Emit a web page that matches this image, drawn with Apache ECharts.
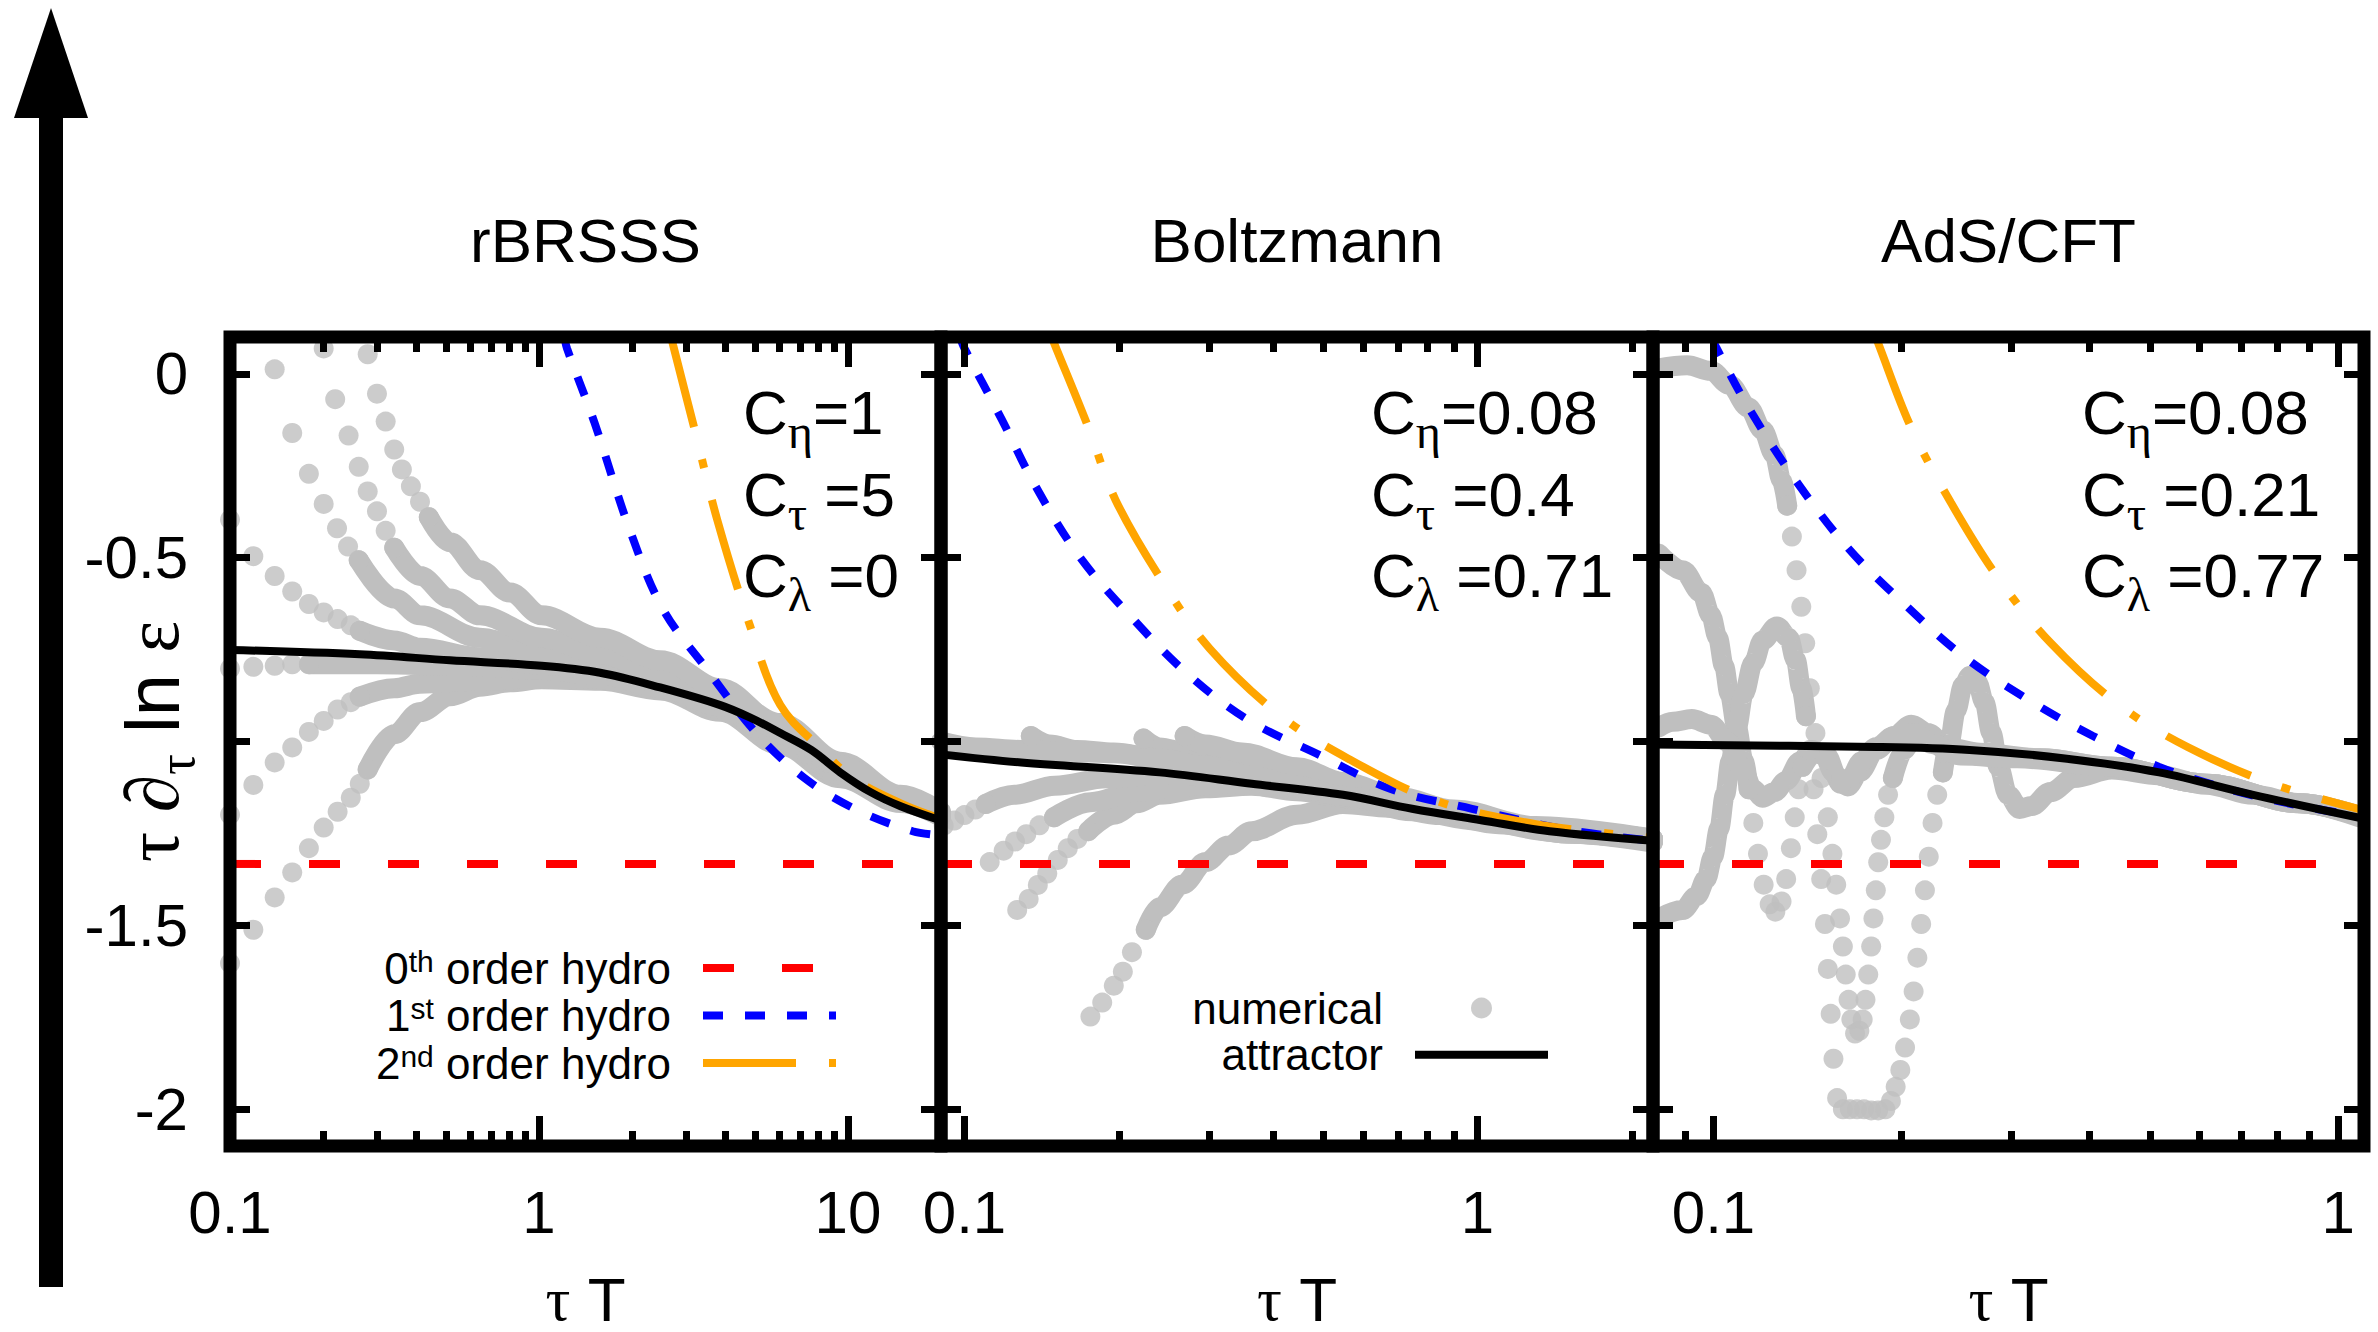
<!DOCTYPE html>
<html><head><meta charset="utf-8">
<script src="https://cdn.jsdelivr.net/npm/echarts@6/dist/echarts.min.js"></script>
<style>html,body{margin:0;padding:0;background:#fff}#c{width:2378px;height:1332px}</style>
</head><body><div id="c"></div>
<script>
// ---------------- data ----------------
const panelTitles = ['rBRSSS', 'Boltzmann', 'AdS/CFT'];
const xMin = [0.1, 0.09, 0.08];
const xMax = [20, 2.2, 1.1];
const xMajorTicks = [[0.1, 1, 10], [0.1, 1], [0.1, 1]];
const xMinorTicks = [
  [0.2, 0.3, 0.4, 0.5, 0.6, 0.7, 0.8, 0.9, 2, 3, 4, 5, 6, 7, 8, 9],
  [0.2, 0.3, 0.4, 0.5, 0.6, 0.7, 0.8, 0.9, 2],
  [0.09, 0.2, 0.3, 0.4, 0.5, 0.6, 0.7, 0.8, 0.9]
];
const yTicks = [0, -0.5, -1, -1.5, -2];
const yTickLabels = [0, -0.5, -1.5, -2];
const paramEta = ['1', '0.08', '0.08'];
const paramTau = ['5', '0.4', '0.21'];
const paramLambda = ['0', '0.71', '0.77'];

const hydro0Value = -1.333;

// panel 1 (rBRSSS)
const p1Hydro1 = [[1.21,0.1],[1.232,0.069],[1.508,-0.13],[1.972,-0.427],[2.523,-0.641],[3.527,-0.808],[5.05,-0.977],[7.22,-1.099],[10.56,-1.184],[16.2,-1.244],[20,-1.255]];
const p1Hydro2 = [[2.68,0.1],[2.72,0.076],[3.226,-0.168],[3.774,-0.397],[4.826,-0.687],[6.04,-0.901],[8.25,-1.023],[10.33,-1.099],[14.8,-1.168],[20,-1.21]];
const p1Attractor = [[0.1,-0.751],[0.263,-0.763],[0.515,-0.779],[1.02,-0.794],[1.577,-0.813],[2.467,-0.853],[3.86,-0.901],[4.83,-0.935],[6.04,-0.977],[7.6,-1.023],[9.44,-1.084],[11.8,-1.137],[14.8,-1.176],[20,-1.215]];
const p1Dots = [
  [[0.1,-1.603],[0.119,-1.512],[0.1395,-1.424],[0.159,-1.356],[0.18,-1.29],[0.201,-1.234],[0.223,-1.191],[0.246,-1.153],[0.263,-1.115],[0.279,-1.076]],
  [[0.1,-1.199],[0.119,-1.118],[0.1395,-1.057],[0.159,-1.016],[0.18,-0.974],[0.201,-0.944],[0.223,-0.913],[0.246,-0.893],[0.263,-0.878]],
  [[0.1,-0.802],[0.119,-0.797],[0.1395,-0.794],[0.159,-0.79],[0.18,-0.79]],
  [[0.1,-0.397],[0.119,-0.496],[0.1395,-0.55],[0.159,-0.592],[0.18,-0.626],[0.201,-0.649],[0.223,-0.667],[0.246,-0.684],[0.263,-0.699]],
  [[0.1395,0.012],[0.159,-0.161],[0.18,-0.272],[0.201,-0.354],[0.222,-0.42],[0.241,-0.47],[0.261,-0.507]],
  [[0.201,0.069],[0.219,-0.069],[0.242,-0.168],[0.261,-0.253],[0.279,-0.32],[0.299,-0.374],[0.319,-0.427],[0.34,-0.473]],
  [[0.279,0.053],[0.299,-0.054],[0.319,-0.13],[0.34,-0.206],[0.36,-0.26],[0.385,-0.306],[0.412,-0.348],[0.44,-0.39]]
];
const p1Bands = [
  [[0.279,-1.076],[0.34,-0.98],[0.412,-0.92],[0.515,-0.877],[0.644,-0.851],[0.806,-0.839],[1.02,-0.831],[1.58,-0.835],[2.47,-0.861],[3.86,-0.919],[6.04,-1.01],[9.44,-1.1],[14.8,-1.167],[20,-1.2]],
  [[0.263,-0.878],[0.34,-0.855],[0.412,-0.843],[0.644,-0.834],[1.02,-0.828],[1.58,-0.83],[2.47,-0.855],[3.86,-0.91],[6.04,-0.995],[9.44,-1.09],[14.8,-1.16],[20,-1.2]],
  [[0.18,-0.79],[0.3,-0.79],[0.6,-0.795],[1.0,-0.805],[1.6,-0.82],[2.5,-0.855],[3.9,-0.905],[6,-0.98],[9.4,-1.08],[14.8,-1.165],[20,-1.205]],
  [[0.263,-0.699],[0.34,-0.725],[0.412,-0.745],[0.644,-0.771],[1.02,-0.791],[1.58,-0.805],[2.47,-0.84],[3.86,-0.89],[6.04,-0.965],[9.44,-1.07],[14.8,-1.155],[20,-1.2]],
  [[0.261,-0.507],[0.34,-0.611],[0.412,-0.657],[0.644,-0.718],[1.02,-0.763],[1.58,-0.795],[2.47,-0.83],[3.86,-0.88],[6.04,-0.955],[9.44,-1.06],[14.8,-1.15],[20,-1.195]],
  [[0.34,-0.473],[0.412,-0.55],[0.515,-0.611],[0.644,-0.657],[1.02,-0.718],[1.577,-0.763],[2.47,-0.815],[3.86,-0.87],[6.04,-0.95],[9.44,-1.055],[14.8,-1.145],[20,-1.19]],
  [[0.44,-0.39],[0.515,-0.458],[0.644,-0.534],[0.806,-0.595],[1.02,-0.657],[1.577,-0.718],[2.467,-0.779],[3.86,-0.855],[6.04,-0.96],[9.44,-1.065],[14.8,-1.155],[20,-1.2]]
];

// panel 2 (Boltzmann)
const p2Hydro1 = [[0.098,0.1],[0.1,0.069],[0.118,-0.122],[0.1375,-0.305],[0.1673,-0.496],[0.21,-0.657],[0.2687,-0.809],[0.355,-0.939],[0.494,-1.038],[0.68,-1.13],[0.976,-1.183],[1.5,-1.24],[2.2,-1.27]];
const p2Hydro2 = [[0.148,0.1],[0.1495,0.084],[0.1743,-0.145],[0.197,-0.343],[0.245,-0.572],[0.301,-0.748],[0.414,-0.931],[0.559,-1.046],[0.826,-1.16],[1.3,-1.225],[2.2,-1.262]];
const p2Attractor = [[0.09,-1.035],[0.129,-1.057],[0.24,-1.084],[0.363,-1.115],[0.547,-1.145],[0.746,-1.183],[1.017,-1.214],[1.383,-1.244],[2.2,-1.27]];
const p2Dots = [
  [[0.176,-1.748],[0.1856,-1.71],[0.1955,-1.664],[0.2036,-1.626],[0.2121,-1.573],[0.2257,-1.512]],
  [[0.1267,-1.458],[0.1334,-1.428],[0.139,-1.39],[0.145,-1.359],[0.152,-1.322],[0.159,-1.29],[0.166,-1.265],[0.1743,-1.244]],
  [[0.112,-1.328],[0.1192,-1.297],[0.1255,-1.272],[0.132,-1.252],[0.14,-1.228],[0.1495,-1.206]],
  [[0.0911,-1.229],[0.0955,-1.215],[0.1,-1.2],[0.105,-1.185],[0.11,-1.17]],
  [[0.1347,-0.985]],
  [[0.2234,-0.992]],
  [[0.2687,-0.985]]
];
const p2Bands = [
  [[0.2257,-1.512],[0.24,-1.451],[0.266,-1.389],[0.295,-1.328],[0.327,-1.283],[0.363,-1.244],[0.445,-1.199],[0.547,-1.17],[0.673,-1.18],[0.85,-1.2],[1.1,-1.225],[1.5,-1.25],[2.2,-1.275]],
  [[0.1743,-1.244],[0.1955,-1.199],[0.2165,-1.168],[0.24,-1.145],[0.295,-1.127],[0.363,-1.12],[0.445,-1.135],[0.547,-1.152],[0.75,-1.19],[1.0,-1.215],[1.4,-1.245],[2.2,-1.272]],
  [[0.1495,-1.206],[0.176,-1.165],[0.2165,-1.137],[0.266,-1.122],[0.33,-1.115],[0.45,-1.13],[0.6,-1.16],[0.8,-1.19],[1.1,-1.222],[1.5,-1.25],[2.2,-1.272]],
  [[0.11,-1.17],[0.125,-1.145],[0.15,-1.12],[0.19,-1.1],[0.25,-1.09],[0.33,-1.1],[0.45,-1.125],[0.6,-1.155],[0.8,-1.19],[1.1,-1.22],[1.5,-1.25],[2.2,-1.272]],
  [[0.1347,-0.985],[0.1465,-1.008],[0.1656,-1.023],[0.1955,-1.03],[0.24,-1.046],[0.3,-1.07],[0.4,-1.1],[0.55,-1.14],[0.75,-1.18],[1.0,-1.208],[1.4,-1.24],[2.2,-1.265]],
  [[0.2234,-0.992],[0.24,-1.016],[0.2715,-1.03],[0.327,-1.05],[0.4,-1.08],[0.5,-1.11],[0.65,-1.15],[0.9,-1.19],[1.3,-1.235],[2.2,-1.265]],
  [[0.2687,-0.985],[0.295,-1.008],[0.348,-1.03],[0.445,-1.07],[0.547,-1.11],[0.7,-1.15],[0.9,-1.185],[1.3,-1.23],[2.2,-1.265]],
  [[0.09,-1.0],[0.1053,-1.016],[0.1293,-1.023],[0.159,-1.028],[0.1955,-1.032],[0.24,-1.046],[0.295,-1.066],[0.363,-1.093],[0.445,-1.12],[0.547,-1.148],[0.75,-1.18],[1.0,-1.208],[1.4,-1.24],[2.2,-1.265]]
];

// panel 3 (AdS/CFT)
const p3Hydro1 = [[0.0995,0.1],[0.1007,0.076],[0.1137,-0.091],[0.1354,-0.29],[0.164,-0.473],[0.202,-0.626],[0.249,-0.763],[0.318,-0.885],[0.405,-0.985],[0.517,-1.069],[0.67,-1.13],[0.87,-1.175],[1.1,-1.205]];
const p3Hydro2 = [[0.182,0.1],[0.1834,0.084],[0.207,-0.145],[0.24,-0.351],[0.286,-0.557],[0.347,-0.733],[0.446,-0.901],[0.574,-1.015],[0.784,-1.115],[1.1,-1.187]];
const p3Attractor = [[0.08,-1.008],[0.182,-1.015],[0.257,-1.023],[0.365,-1.046],[0.517,-1.084],[0.731,-1.145],[1.1,-1.21]];
const p3Dots = [
  [[0.1312,-0.3587],[0.1335,-0.4427],[0.1358,-0.5343],[0.1382,-0.6336],[0.1402,-0.7328],[0.1426,-0.855],[0.1456,-0.9771],[0.1489,-1.0993],[0.1524,-1.2062],[0.155,-1.3054],[0.1572,-1.3894],[0.1594,-1.4811],[0.1611,-1.5574],[0.1628,-1.6338],[0.1645,-1.7025],[0.1662,-1.7559],[0.1685,-1.7941],[0.1712,-1.7865],[0.1733,-1.7559],[0.1751,-1.7025],[0.1769,-1.6338],[0.1788,-1.5574],[0.1803,-1.4811],[0.1819,-1.4047],[0.1835,-1.3283],[0.1854,-1.2673],[0.1877,-1.2062],[0.1903,-1.1451],[0.1937,-1.0993]],
  [[0.1138,-1.1298],[0.1158,-1.2214],[0.1178,-1.3054],[0.1203,-1.3894],[0.123,-1.4429],[0.1256,-1.4627],[0.1285,-1.4352],[0.1307,-1.3742],[0.133,-1.2902],[0.1349,-1.2062],[0.1368,-1.1298],[0.1389,-1.0688]],
  [[0.1406,-0.9313],[0.1426,-1.0229],[0.1446,-1.1298],[0.1466,-1.252],[0.1487,-1.3742],[0.1508,-1.4963],[0.1524,-1.6185],[0.154,-1.7406],[0.1556,-1.8628],[0.1577,-1.9697],[0.1611,-2.0002],[0.1653,-2.0002],[0.1697,-2.0002],[0.1742,-2.0002],[0.1788,-2.0033],[0.1835,-2.0033],[0.1884,-2.0002],[0.1923,-1.9773],[0.1957,-1.9392],[0.1991,-1.8933],[0.2026,-1.8323],[0.2062,-1.7559],[0.2091,-1.6796],[0.212,-1.5879],[0.215,-1.4963],[0.218,-1.4047],[0.2211,-1.3131],[0.2242,-1.2214],[0.2281,-1.1451],[0.2329,-1.084]]
];
const p3Bands = [
  [[0.0817,0.015],[0.0907,0.023],[0.099,0.008],[0.1061,-0.03],[0.1138,-0.092],[0.1198,-0.153],[0.1252,-0.221],[0.1285,-0.29],[0.1312,-0.3587]],
  [[0.1937,-1.0993],[0.2019,-1.0229],[0.2091,-0.9848],[0.2203,-0.9924],[0.2362,-1.0229],[0.2667,-1.0382],[0.3344,-1.0458],[0.4341,-1.0688],[0.6149,-1.1146],[0.8704,-1.168],[1.0819,-1.2031]],
  [[0.0817,-0.4885],[0.0892,-0.5343],[0.0956,-0.5954],[0.099,-0.6565],[0.1016,-0.7176],[0.1039,-0.7939],[0.1061,-0.8703],[0.1089,-0.9619],[0.1118,-1.0535],[0.1138,-1.1298]],
  [[0.1389,-1.0688],[0.1451,-1.0306],[0.1516,-1.0382],[0.1583,-1.0993],[0.1639,-1.1222],[0.1712,-1.084],[0.1819,-1.0229],[0.195,-0.9848],[0.2073,-0.9542],[0.2203,-0.9771],[0.2362,-1.0153],[0.2667,-1.0306],[0.3344,-1.0458],[0.4341,-1.0688],[0.6149,-1.1146],[0.8704,-1.168],[1.0819,-1.2031]],
  [[0.0817,-1.4811],[0.0892,-1.4582],[0.094,-1.42],[0.0973,-1.3742],[0.0998,-1.3131],[0.1021,-1.2367],[0.1043,-1.1451],[0.1065,-1.0535],[0.1089,-0.9619],[0.1118,-0.8703],[0.1158,-0.7863],[0.1198,-0.7252],[0.1263,-0.687],[0.1319,-0.7176],[0.1354,-0.7786],[0.1382,-0.855],[0.1406,-0.9313]],
  [[0.2329,-1.084],[0.2382,-1.0077],[0.2445,-0.9161],[0.251,-0.8473],[0.2576,-0.8214],[0.2644,-0.8397],[0.2714,-0.8932],[0.2786,-0.9771],[0.2859,-1.0688],[0.2961,-1.1451],[0.3092,-1.1833],[0.323,-1.1756],[0.3462,-1.1375],[0.3777,-1.0993],[0.4341,-1.0764],[0.5168,-1.0917],[0.6149,-1.1176],[0.7315,-1.1451],[0.8704,-1.168],[1.0819,-1.2031]],
  [[0.0817,-0.9619],[0.0861,-0.9466],[0.0923,-0.939],[0.099,-0.9542],[0.1052,-1.0],[0.1108,-1.0688],[0.1158,-1.1298],[0.1198,-1.1527],[0.1252,-1.1375],[0.1307,-1.1069],[0.1377,-1.0535],[0.1439,-1.0229],[0.1502,-1.0382],[0.1556,-1.084],[0.1597,-1.1146],[0.1653,-1.0993],[0.1727,-1.0535],[0.1819,-1.0153],[0.195,-0.9848],[0.2091,-0.9771],[0.2242,-1.0077],[0.2488,-1.0382],[0.3065,-1.0458],[0.4341,-1.0688],[0.6149,-1.1146],[0.8704,-1.168],[1.0819,-1.2062]]
];

// ---------------- chart ----------------
const FONT = "'Liberation Sans', Arial, Helvetica, sans-serif";
const GREEK = "'Liberation Serif', 'DejaVu Serif', serif";
const GRAY = '#bfbfbf';
const RED = '#ff0000', BLUE = '#0000ff', ORANGE = '#ffa500', BLACK = '#000000';

const gridLeft = [230, 941, 1653];
const gridWidth = [711, 712, 711];
const GRID_TOP = 337, GRID_H = 809;

const grids = gridLeft.map((l, i) => ({
  left: l, top: GRID_TOP, width: gridWidth[i], height: GRID_H,
  show: true, borderColor: '#000', borderWidth: 13, backgroundColor: 'transparent',
  z: 10, containLabel: false, outerBoundsMode: 'none'
}));

const tickStyle = { color: '#000', width: 7 };
const xAxes = [], yAxes = [];
for (let i = 0; i < 3; i++) {
  const base = {
    gridIndex: i, type: 'log', logBase: 10, min: xMin[i], max: xMax[i], z: 11,
    axisLine: { show: false, onZero: false }, splitLine: { show: false }, minorTick: { show: false },
    nameMoveOverlap: false
  };
  xAxes.push(Object.assign({}, base, {
    position: 'bottom',
    axisTick: { show: true, inside: true, length: 30, lineStyle: tickStyle, customValues: xMajorTicks[i] },
    axisLabel: { show: true, customValues: xMajorTicks[i], margin: 36, fontSize: 60, color: '#000', fontFamily: FONT,
      formatter: v => String(v) },
    name: '{g|τ} {m|T}', nameLocation: 'middle', nameGap: 128,
    nameTextStyle: { fontSize: 62, lineHeight: 50, color: '#000', fontFamily: FONT, rich: {
      g: { fontSize: 62, lineHeight: 50, fontFamily: GREEK, color: '#000' },
      m: { fontSize: 62, lineHeight: 50, fontFamily: FONT, color: '#000' } } }
  }));
  xAxes.push(Object.assign({}, base, {
    position: 'bottom',
    axisTick: { show: true, inside: true, length: 15, lineStyle: tickStyle, customValues: xMinorTicks[i] },
    axisLabel: { show: false }
  }));
  xAxes.push(Object.assign({}, base, {
    position: 'top',
    axisTick: { show: true, inside: true, length: 30, lineStyle: tickStyle, customValues: xMajorTicks[i] },
    axisLabel: { show: false },
    name: panelTitles[i], nameLocation: 'middle', nameGap: 66,
    nameTextStyle: { fontSize: 62, color: '#000', fontFamily: FONT }
  }));
  xAxes.push(Object.assign({}, base, {
    position: 'top',
    axisTick: { show: true, inside: true, length: 15, lineStyle: tickStyle, customValues: xMinorTicks[i] },
    axisLabel: { show: false }
  }));
  const ybase = {
    gridIndex: i, type: 'value', min: -2.1, max: 0.1, z: 11,
    axisLine: { show: false, onZero: false }, splitLine: { show: false },
    axisTick: { show: true, inside: true, length: 20, lineStyle: tickStyle, customValues: yTicks },
    nameMoveOverlap: false
  };
  yAxes.push(Object.assign({}, ybase, {
    position: 'left',
    axisLabel: { show: i === 0, customValues: yTickLabels, margin: 42, fontSize: 60, color: '#000', fontFamily: FONT,
      formatter: v => String(v) },
    name: i === 0 ? '{g|τ ∂}{s|τ}{m| ln }{g|ε}' : '', nameLocation: 'middle', nameRotate: 90, nameGap: 40,
    nameTextStyle: { color: '#000', rich: {
      g: { fontSize: 76, lineHeight: 76, fontFamily: GREEK, color: '#000', verticalAlign: 'top' },
      m: { fontSize: 76, lineHeight: 76, fontFamily: FONT, color: '#000', verticalAlign: 'top' },
      s: { fontSize: 52, lineHeight: 52, fontFamily: GREEK, color: '#000', verticalAlign: 'top', padding: [36, 0, 0, 0] }
    } }
  }));
  yAxes.push(Object.assign({}, ybase, { position: 'right', axisLabel: { show: false } }));
}

const series = [];
const panels = [
  { dots: p1Dots, bands: p1Bands, h1: p1Hydro1, h2: p1Hydro2, att: p1Attractor },
  { dots: p2Dots, bands: p2Bands, h1: p2Hydro1, h2: p2Hydro2, att: p2Attractor },
  { dots: p3Dots, bands: p3Bands, h1: p3Hydro1, h2: p3Hydro2, att: p3Attractor }
];
panels.forEach((p, i) => {
  const xi = i * 4, yi = i * 2;
  p.dots.forEach(d => series.push({
    name: 'numerical', type: 'scatter', xAxisIndex: xi, yAxisIndex: yi, data: d,
    symbol: 'circle', symbolSize: 20, itemStyle: { color: GRAY }, z: 2, clip: false, silent: true, animation: false
  }));
  p.bands.forEach(d => series.push({
    name: 'numerical', type: 'line', xAxisIndex: xi, yAxisIndex: yi, data: d, symbol: 'none',
    smooth: 0.35, smoothMonotone: 'x',
    itemStyle: { color: GRAY }, lineStyle: { color: GRAY, width: 20, cap: 'round', join: 'round' }, z: 2, silent: true, animation: false
  }));
  series.push({
    name: '0th order hydro', type: 'line', xAxisIndex: xi, yAxisIndex: yi,
    data: [[xMin[i], hydro0Value], [xMax[i], hydro0Value]], symbol: 'none',
    itemStyle: { color: RED }, lineStyle: { color: RED, width: 8, type: [31, 48], cap: 'butt' }, z: 3, silent: true, animation: false
  });
  series.push({
    name: '1st order hydro', type: 'line', xAxisIndex: xi, yAxisIndex: yi, data: p.h1, symbol: 'none',
    smooth: 0.35,
    itemStyle: { color: BLUE }, lineStyle: { color: BLUE, width: 8, type: [20, 22], cap: 'butt' }, z: 3, silent: true, animation: false
  });
  series.push({
    name: '2nd order hydro', type: 'line', xAxisIndex: xi, yAxisIndex: yi, data: p.h2, symbol: 'none',
    smooth: 0.35,
    itemStyle: { color: ORANGE }, lineStyle: { color: ORANGE, width: 8, type: [93, 33, 9, 33], cap: 'butt' }, z: 3, silent: true, animation: false
  });
  series.push({
    name: 'attractor', type: 'line', xAxisIndex: xi, yAxisIndex: yi, data: p.att, symbol: 'none',
    smooth: 0.35,
    itemStyle: { color: BLACK }, lineStyle: { color: BLACK, width: 8 }, z: 4, silent: true, animation: false
  });
});

const legendRich = {
  b: { fontSize: 44, lineHeight: 44, fontFamily: FONT, color: '#000', verticalAlign: 'bottom' },
  sup: { fontSize: 30, lineHeight: 30, fontFamily: FONT, color: '#000', verticalAlign: 'top', padding: [0, 0, 28, 0] },
  gap: { width: 27 }
};
const legendRich2 = {
  b: { fontSize: 44, lineHeight: 44, fontFamily: FONT, color: '#000' },
  gap: { width: 27 }
};

const legends = [
  {
    orient: 'vertical', align: 'right', right: 1538, top: 946, padding: 0, itemGap: -10.5,
    itemWidth: 133, itemHeight: 14, selectedMode: false, z: 12,
    itemStyle: { opacity: 0 },
    lineStyle: { width: 8, type: 'inherit', cap: 'butt' },
    data: ['0th order hydro', '1st order hydro', '2nd order hydro'],
    formatter: name => {
      const m = name.match(/^(\d)(th|st|nd) (.*)$/);
      return '{b|' + m[1] + '}{sup|' + m[2] + '}{b| ' + m[3] + '}{gap|}';
    },
    textStyle: { fontSize: 44, fontFamily: FONT, color: '#000', rich: legendRich }
  },
  {
    orient: 'vertical', align: 'right', right: 826, top: 986, padding: 0, itemGap: 2.7,
    itemWidth: 133, itemHeight: 21, selectedMode: false, z: 12,
    lineStyle: { width: 8 },
    data: [{ name: 'numerical', icon: 'circle' }, { name: 'attractor', itemStyle: { opacity: 0 } }],
    formatter: name => '{b|' + name + '}{gap|}',
    textStyle: { fontSize: 44, fontFamily: FONT, color: '#000', rich: legendRich2 }
  }
];

const annotLeft = [743, 1371, 2082];
const annotRowY = [412, 494, 575];
const annotRich = {
  c: { fontSize: 62, lineHeight: 62, fontFamily: FONT, color: '#000', verticalAlign: 'top' },
  s: { fontSize: 48, lineHeight: 48, fontFamily: GREEK, color: '#000', verticalAlign: 'top', padding: [26, 0, 0, 0] }
};
const graphics = [
  { type: 'rect', z: 20, shape: { x: 39, y: 116, width: 24, height: 1171 }, style: { fill: '#000' } },
  { type: 'polygon', z: 20, shape: { points: [[51, 8], [14, 118], [88, 118]] }, style: { fill: '#000' } }
];
for (let i = 0; i < 3; i++) {
  const rows = ['{c|C}{s|η}{c|=' + paramEta[i] + '}', '{c|C}{s|τ}{c| =' + paramTau[i] + '}', '{c|C}{s|λ}{c| =' + paramLambda[i] + '}'];
  rows.forEach((t, r) => graphics.push({
    type: 'text', z: 20, x: annotLeft[i], y: annotRowY[r] - 31,
    style: { text: t, rich: annotRich, fill: '#000', align: 'left', verticalAlign: 'top', textAlign: 'left', textVerticalAlign: 'top' }
  }));
}

const chart = echarts.init(document.getElementById('c'), null, { renderer: 'svg', width: 2378, height: 1332 });
chart.setOption({
  animation: false,
  backgroundColor: '#ffffff',
  textStyle: { fontFamily: FONT },
  grid: grids,
  xAxis: xAxes,
  yAxis: yAxes,
  legend: legends,
  series: series,
  graphic: graphics
});
</script></body></html>
